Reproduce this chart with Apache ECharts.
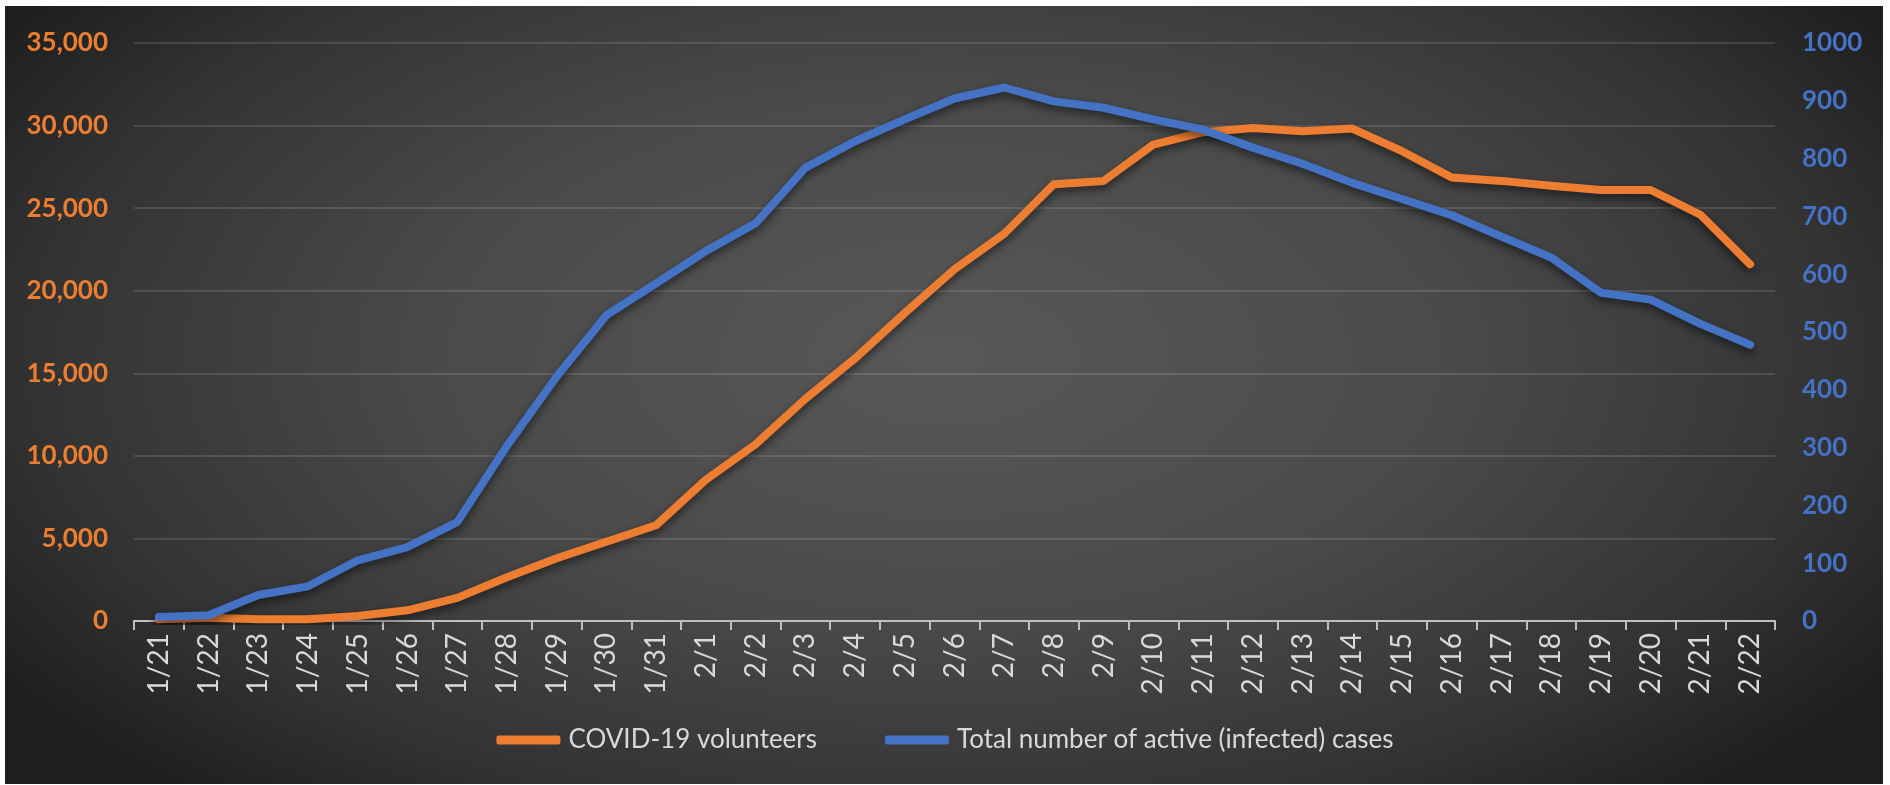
<!DOCTYPE html>
<html>
<head>
<meta charset="utf-8">
<script src="https://cdn.jsdelivr.net/npm/echarts@6/dist/echarts.min.js"></script>
<style>
  html, body { margin: 0; padding: 0; background: #fff; }
  #wrap {
    position: absolute; left: 5px; top: 6px; width: 1878px; height: 778px;
    background: radial-gradient(ellipse 60% 75% at 50% 45%, #585858 0%, #4a4a4a 45%, #333 80%, #1f1f1f 100%);
  }
  #chart { position: absolute; left: -5px; top: -6px; width: 1890px; height: 785px; }
</style>
</head>
<body>
<div id="wrap"><div id="chart"></div></div>
<script>
const $ = (id) => document.getElementById(id);

const days = ["1/21", "1/22", "1/23", "1/24", "1/25", "1/26", "1/27", "1/28", "1/29", "1/30", "1/31",
  "2/1", "2/2", "2/3", "2/4", "2/5", "2/6", "2/7", "2/8", "2/9", "2/10", "2/11", "2/12", "2/13", "2/14",
  "2/15", "2/16", "2/17", "2/18", "2/19", "2/20", "2/21", "2/22"];

// left axis
const volunteers = [100, 200, 100, 100, 300, 650, 1400, 2650, 3800, 4800, 5800,
  8550, 10700, 13450, 15900, 18650, 21300, 23450, 26450, 26650, 28850, 29600, 29850, 29650, 29820,
  28450, 26850, 26650, 26350, 26100, 26100, 24600, 21600];

// right axis
const activeCases = [7, 10, 45, 60, 105, 128, 171, 303, 423, 529, 584,
  640, 688, 784, 830, 868, 904, 923, 899, 888, 868, 850, 819, 791, 758,
  730, 702, 665, 629, 568, 556, 514, 478];

const ORANGE = "#ED7D31";
const BLUE = "#4472C4";
const FONT = "Lato";

const chart = echarts.init($("chart"));

const lineShadow = { shadowColor: "rgba(0,0,0,0.55)", shadowBlur: 8, shadowOffsetY: 4 };

chart.setOption({
  backgroundColor: "transparent",
  animation: false,
  textStyle: { fontFamily: FONT },
  grid: { left: 134, right: 115, top: 43, bottom: 164 },
  legend: {
    left: "center",
    top: 722,
    itemWidth: 64,
    itemHeight: 9,
    itemGap: 68,
    icon: "roundRect",
    textStyle: { color: "#d9d9d9", fontSize: 26, fontFamily: FONT, padding: [0, 0, 0, 3] },
    data: ["COVID-19 volunteers", "Total number of active (infected) cases"]
  },
  xAxis: {
    type: "category",
    data: days,
    boundaryGap: true,
    axisLine: { lineStyle: { color: "#bfbfbf", width: 2 } },
    axisTick: { show: true, length: 9, lineStyle: { color: "#bfbfbf", width: 2 } },
    axisLabel: { rotate: 90, color: "#d9d9d9", fontSize: 28, fontFamily: FONT, margin: 12, interval: 0 }
  },
  yAxis: [
    {
      type: "value",
      min: 0, max: 35000, interval: 5000,
      axisLine: { show: false },
      axisTick: { show: false },
      splitLine: { lineStyle: { color: "rgba(255,255,255,0.12)", width: 2 } },
      axisLabel: {
        color: ORANGE, fontSize: 26, fontWeight: "bold", fontFamily: FONT, margin: 26,
        formatter: (v) => v.toLocaleString("en-US")
      }
    },
    {
      type: "value",
      min: 0, max: 1000, interval: 100,
      axisLine: { show: false },
      axisTick: { show: false },
      splitLine: { show: false },
      axisLabel: { color: BLUE, fontSize: 26, fontWeight: "bold", fontFamily: FONT, margin: 27, formatter: (v) => String(v) }
    }
  ],
  series: [
    {
      name: "COVID-19 volunteers",
      type: "line",
      yAxisIndex: 0,
      data: volunteers,
      showSymbol: false,
      symbol: "none",
      itemStyle: { color: ORANGE },
      lineStyle: Object.assign({ color: ORANGE, width: 8, cap: "round", join: "round" }, lineShadow),
      z: 2
    },
    {
      name: "Total number of active (infected) cases",
      type: "line",
      yAxisIndex: 1,
      data: activeCases,
      showSymbol: false,
      symbol: "none",
      itemStyle: { color: BLUE },
      lineStyle: Object.assign({ color: BLUE, width: 8, cap: "round", join: "round" }, lineShadow),
      z: 3
    }
  ]
});
</script>
</body>
</html>
